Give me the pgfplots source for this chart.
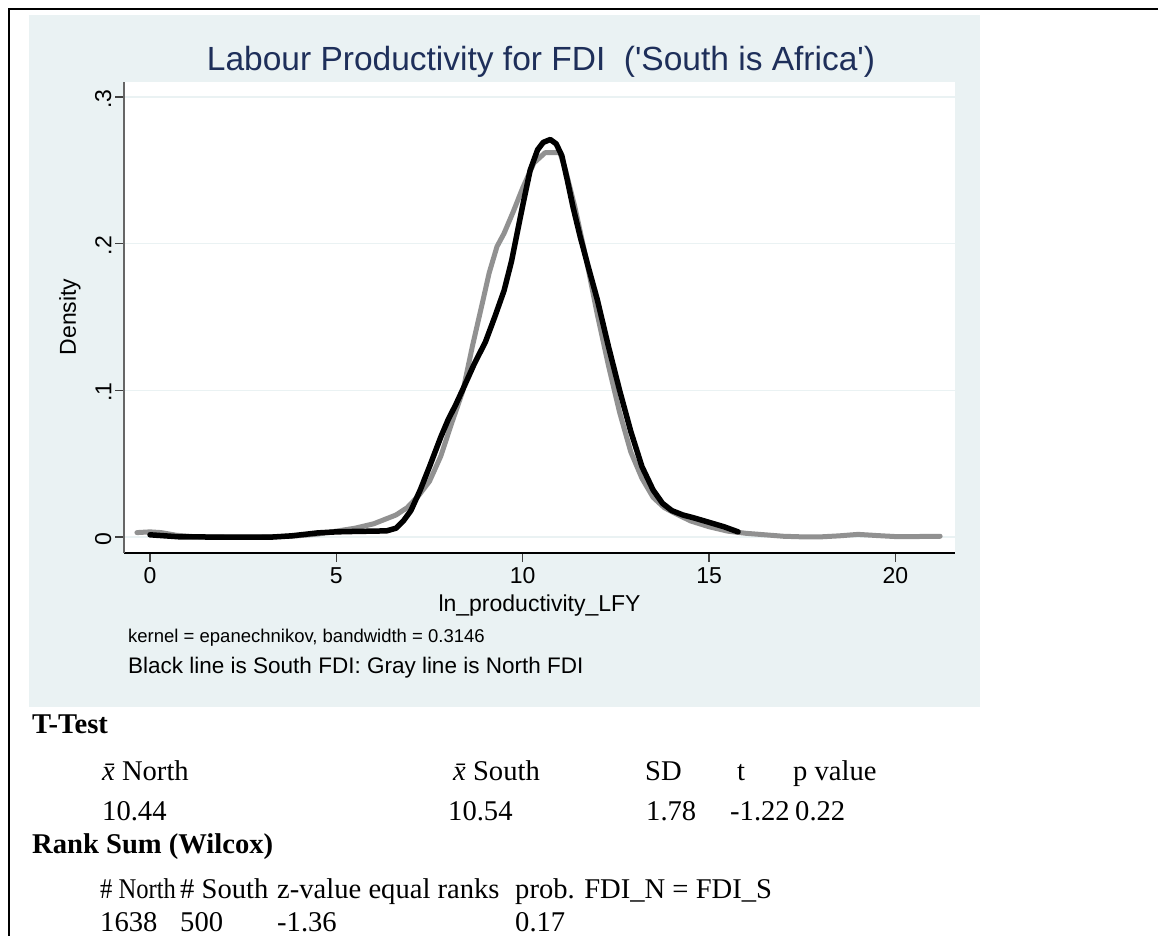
\documentclass[border=0pt]{standalone}
\usepackage{fontspec}
\setmainfont{Liberation Sans}
\newfontfamily\timesfont{Liberation Serif}
\usepackage{graphicx}
\usepackage{pgfplots}
\pgfplotsset{compat=1.18}
\definecolor{bgc}{RGB}{234,242,243}
\definecolor{titc}{RGB}{30,47,90}
\definecolor{grayline}{RGB}{145,145,145}
\definecolor{gridc}{RGB}{234,242,243}
\pgfplotstableread{
x y
-0.35 0.003
0.0 0.0035
0.3 0.003
0.7 0.0012
1.2 0.0002
2.0 0.0
3.0 0.0
3.8 0.0005
4.5 0.002
5.0 0.004
5.5 0.006
6.0 0.009
6.3 0.012
6.6 0.015
6.9 0.020
7.2 0.028
7.5 0.038
7.8 0.055
8.1 0.078
8.4 0.100
8.65 0.130
8.94 0.162
9.1 0.180
9.31 0.198
9.5 0.207
9.75 0.222
10.0 0.238
10.3 0.255
10.6 0.262
11.0 0.262
11.15 0.250
11.4 0.225
11.7 0.190
12.0 0.152
12.3 0.117
12.6 0.085
12.9 0.058
13.2 0.040
13.5 0.027
13.8 0.020
14.1 0.016
14.5 0.011
15.0 0.007
15.5 0.004
16.0 0.0025
16.5 0.0015
17.0 0.0005
17.5 0.0001
18.0 0.0001
18.5 0.0008
19.0 0.0018
19.5 0.0010
20.0 0.0003
20.5 0.0003
21.2 0.0005
}\north
\pgfplotstableread{
x y
0.0 0.0015
0.4 0.0008
0.8 0.0001
1.5 0.0
2.5 0.0
3.3 0.0
3.8 0.0008
4.5 0.0028
5.0 0.0035
5.5 0.0038
6.0 0.004
6.35 0.0042
6.6 0.006
6.8 0.011
7.0 0.018
7.25 0.032
7.5 0.048
7.8 0.068
8.0 0.080
8.2 0.090
8.4 0.101
8.7 0.118
9.0 0.133
9.25 0.150
9.5 0.168
9.7 0.188
9.85 0.207
10.0 0.226
10.2 0.250
10.4 0.264
10.55 0.269
10.74 0.271
10.9 0.268
11.05 0.260
11.2 0.243
11.35 0.225
11.54 0.205
11.75 0.185
12.0 0.162
12.3 0.130
12.6 0.100
12.9 0.072
13.2 0.048
13.5 0.032
13.75 0.023
14.0 0.018
14.3 0.015
14.6 0.013
15.0 0.010
15.4 0.007
15.78 0.0035
}\south
\newcommand{\xbar}{{\itshape\=x}}
\begin{document}
\begin{tikzpicture}[
  tbl/.style={anchor=base west, inner sep=0pt, font=\timesfont\fontsize{28.6}{29}\selectfont},
  tblb/.style={anchor=base west, inner sep=0pt, font=\timesfont\bfseries\fontsize{28.6}{29}\selectfont}]
\path[use as bounding box] (0,0) rectangle (1158pt,-936pt);
\fill[bgc] (29pt,-15pt) rectangle (980pt,-707pt);
\draw[line width=2.5pt] (9pt,-936pt) -- (9pt,-9pt) -- (1158pt,-9pt);
\begin{axis}[
  at={(124pt,-553pt)}, anchor=south west,
  scale only axis, width=831pt, height=471pt,
  xmin=-0.698, xmax=21.60, ymin=-0.01091, ymax=0.3102,
  axis background/.style={fill=white},
  axis x line*=bottom, axis y line*=left,
  axis line style={-, line width=1.2pt},
  x axis line style={black},
  y axis line style={black!60},
  tick align=outside, major tick length=9pt,
  tick style={black!75, line width=1.2pt},
  xtick={0,5,10,15,20}, xticklabels={0,5,10,15,20},
  ytick={0,0.1,0.2,0.3}, yticklabels={0,.1,.2,.3},
  ymajorgrids, grid style={gridc, line width=1.6pt},
  tick label style={font=\fontsize{23}{23}\selectfont},
  xticklabel style={yshift=-2pt},
  yticklabel style={rotate=90, anchor=south, xshift=-2pt},
  xlabel={ln\_productivity\_LFY},
  xlabel style={at={(axis description cs:0.5,0)}, anchor=base, yshift=-58pt, font=\fontsize{23}{23}\selectfont},
  clip=false,
]
\addplot[grayline, line width=5pt, line join=round, line cap=round] table[x=x,y=y] {\north};
\addplot[black, line width=5.5pt, line join=round, line cap=round] table[x=x,y=y] {\south};
\end{axis}
\node[rotate=90, inner sep=0pt, font=\fontsize{23}{23}\selectfont] at (70pt,-317pt) {Density};
\node[anchor=base, text=titc, inner sep=0pt, font=\fontsize{33.5}{40}\selectfont] at (541pt,-71pt) {Labour Productivity for FDI~~(\textquotesingle South is Africa\textquotesingle)};
\node[anchor=base west, inner sep=0pt, font=\fontsize{18.5}{20}\selectfont] at (128pt,-642pt) {kernel = epanechnikov, bandwidth = 0.3146};
\node[anchor=base west, inner sep=0pt, font=\fontsize{22.5}{24}\selectfont] at (128pt,-673pt) {Black line is South FDI: Gray line is North FDI};
% table
\node[tblb] at (32pt,-733pt) {T-Test};
\node[tbl] at (102pt,-780pt) {\xbar\ North};
\node[tbl] at (453pt,-780pt) {\xbar\ South};
\node[tbl] at (645pt,-780pt) {SD};
\node[tbl] at (737pt,-780pt) {t};
\node[tbl] at (793pt,-780pt) {p value};
\node[tbl] at (102pt,-820pt) {10.44};
\node[tbl] at (448pt,-820pt) {10.54};
\node[tbl] at (646pt,-820pt) {1.78};
\node[tbl] at (730pt,-820pt) {-1.22};
\node[tbl] at (795pt,-820pt) {0.22};
\node[tblb] at (32pt,-853pt) {Rank Sum (Wilcox)};
\node[tbl] at (100pt,-898pt) {\scalebox{0.86}[1]{\# North}};
\node[tbl] at (180pt,-898pt) {\# South};
\node[tbl] at (277pt,-898pt) {z-value equal ranks};
\node[tbl] at (515pt,-898pt) {prob. FDI\_N = FDI\_S};
\node[tbl] at (100pt,-931pt) {1638};
\node[tbl] at (180pt,-931pt) {500};
\node[tbl] at (277pt,-931pt) {-1.36};
\node[tbl] at (515pt,-931pt) {0.17};
\end{tikzpicture}
\end{document}
